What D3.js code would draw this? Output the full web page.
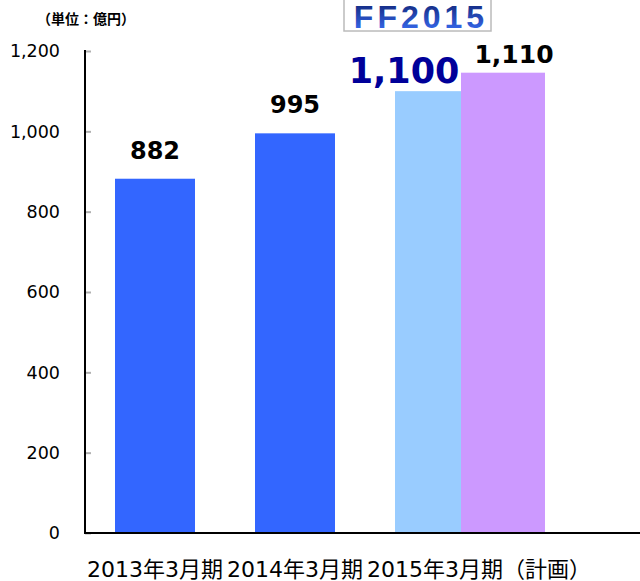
<!DOCTYPE html>
<html>
<head>
<meta charset="utf-8">
<script src="https://cdn.jsdelivr.net/npm/d3@7"></script>
<style>
	body { margin: 0; background: #fff; }
	svg { display: block; }
	text { font-family: "DejaVu Sans", "Noto Sans CJK JP", sans-serif; }
</style>
</head>
<body>
<div id="fig-sales"><svg width="640" height="581"></svg></div>
<script>
// chart data
const categories = ["2013年3月期", "2014年3月期", "2015年3月期"];
const bar_category = ["2013年3月期", "2014年3月期", "2015年3月期", "2015年3月期"];
const bar_values = [882, 995, 1100, 1146];
const bar_labels = ["882", "995", "1,100", "1,110"];
const bar_kind = ["actual", "actual", "target", "plan"];
const y_ticks = [0, 200, 400, 600, 800, 1000, 1200];
const plan_suffix = "（計画）";
const unit_label = "（単位：億円）";
const badge_label = "FF2015";

const colors = { actual: "#3366ff", target: "#99ccff", plan: "#cc99ff" };

function whenDocumentLoaded(action) {
	if (document.readyState === "loading") {
		document.addEventListener("DOMContentLoaded", action);
	} else {
		action();
	}
}

class SalesChart {

	constructor(figure_element_id) {
		this.svg = d3.select('#' + figure_element_id + ' svg');

		const left = 85, bottom = 533, top = 51;

		// Scales
		const x = d3.scaleBand()
			.domain(categories)
			.range([left, left + 420])
			.paddingInner(60 / 140)
			.paddingOuter(30 / 140);

		const y = d3.scaleLinear()
			.domain([0, 1200])
			.range([bottom, top]);

		const bw = x.bandwidth();

		// the 2015 column is split in two: target + plan
		const barX = (i) => {
			const k = bar_kind[i];
			if (k === "plan") return x(bar_category[i]) + 66;
			return x(bar_category[i]);
		};
		const barW = (i) => {
			const k = bar_kind[i];
			if (k === "target") return 66;
			if (k === "plan") return 84;
			return bw;
		};

		const idx = d3.range(bar_values.length);

		this.svg.append("g")
			.selectAll("rect")
			.data(idx)
			.join("rect")
			.attr("x", i => barX(i))
			.attr("y", i => y(bar_values[i]))
			.attr("width", i => barW(i))
			.attr("height", i => y(0) - y(bar_values[i]))
			.attr("fill", i => colors[bar_kind[i]]);

		// value labels
		const labelStyle = {
			actual: { size: 24, color: "#000", dx: 0, gap: 20 },
			target: { size: 35, color: "#000099", dx: -24, gap: 8 },
			plan: { size: 25, color: "#000", dx: 11, gap: 10 }
		};
		this.svg.append("g")
			.selectAll("text")
			.data(idx)
			.join("text")
			.attr("x", i => barX(i) + barW(i) / 2 + labelStyle[bar_kind[i]].dx)
			.attr("y", i => y(bar_values[i]) - labelStyle[bar_kind[i]].gap)
			.attr("text-anchor", "middle")
			.attr("font-weight", "bold")
			.attr("font-size", i => labelStyle[bar_kind[i]].size)
			.attr("fill", i => labelStyle[bar_kind[i]].color)
			.text(i => bar_labels[i]);

		// Y axis: short grey ticks pointing inwards, labels on the left
		const yAxis = d3.axisRight(y)
			.tickValues(y_ticks)
			.tickSize(6)
			.tickFormat(() => "");
		const gy = this.svg.append("g")
			.attr("transform", `translate(${left},0)`)
			.call(yAxis);
		gy.select(".domain").remove();
		gy.selectAll(".tick line")
			.attr("stroke", "#b0b0b0")
			.attr("stroke-width", 2);

		this.svg.append("g")
			.selectAll("text")
			.data(y_ticks)
			.join("text")
			.attr("x", 60)
			.attr("y", d => y(d))
			.attr("dy", "0.36em")
			.attr("text-anchor", "end")
			.attr("font-size", 17.5)
			.attr("fill", "#000")
			.text(d => d3.format(",")(d));

		// axis lines
		this.svg.append("line")
			.attr("x1", left).attr("x2", left)
			.attr("y1", top - 1).attr("y2", bottom + 1)
			.attr("stroke", "#000").attr("stroke-width", 2);
		this.svg.append("line")
			.attr("x1", left - 1).attr("x2", 640)
			.attr("y1", bottom).attr("y2", bottom)
			.attr("stroke", "#000").attr("stroke-width", 2);

		// category labels
		const gx = this.svg.append("g");
		categories.forEach((c, i) => {
			const t = gx.append("text")
				.attr("x", x(c) + bw / 2)
				.attr("y", 577)
				.attr("text-anchor", "middle")
				.attr("font-size", 22)
				.attr("fill", "#000")
				.text(c);
			if (i === categories.length - 1) {
				const w = t.node().getComputedTextLength();
				gx.append("text")
					.attr("x", x(c) + bw / 2 + w / 2)
					.attr("y", 577)
					.attr("font-size", 22)
					.attr("fill", "#000")
					.text(plan_suffix);
			}
		});

		// unit
		this.svg.append("text")
			.attr("x", 37)
			.attr("y", 24)
			.attr("font-size", 14)
			.attr("font-weight", "bold")
			.style("font-family", "'Noto Sans CJK JP', sans-serif")
			.text(unit_label);

		// FF2015 badge
		const defs = this.svg.append("defs");
		const grad = defs.append("linearGradient")
			.attr("id", "ffgrad")
			.attr("x1", 0).attr("y1", 0).attr("x2", 0).attr("y2", 1);
		grad.append("stop").attr("offset", "0%").attr("stop-color", "#0d1f6e");
		grad.append("stop").attr("offset", "100%").attr("stop-color", "#3d74ff");

		this.svg.append("rect")
			.attr("x", 344).attr("y", -3)
			.attr("width", 147).attr("height", 34)
			.attr("fill", "#fff")
			.attr("stroke", "#bbbbbb").attr("stroke-width", 1.5);
		this.svg.append("text")
			.attr("x", 421)
			.attr("y", 28)
			.attr("text-anchor", "middle")
			.attr("font-size", 32)
			.attr("font-weight", "bold")
			.attr("letter-spacing", 4)
			.style("font-family", "'Liberation Sans', sans-serif")
			.attr("fill", "url(#ffgrad)")
			.text(badge_label);
	}
}

whenDocumentLoaded(() => {
	plot_object = new SalesChart('fig-sales');
});
</script>
</body>
</html>
